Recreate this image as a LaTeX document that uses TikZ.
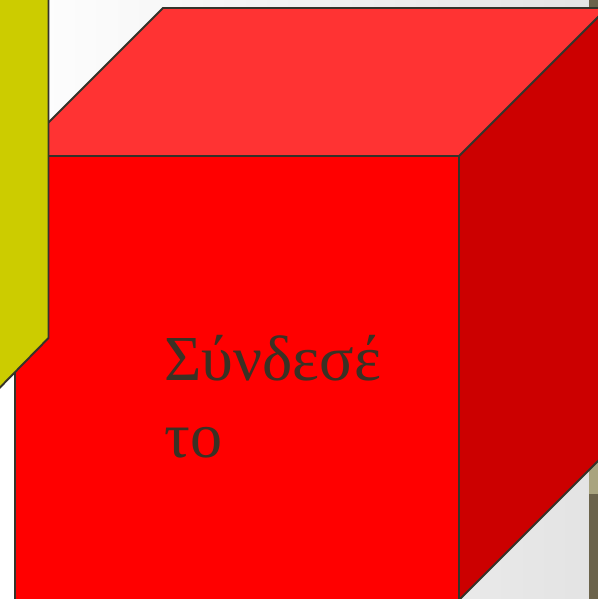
\documentclass[tikz,border=0pt]{standalone}
\usepackage{fontspec}
\newfontfamily\greekfont{Liberation Serif}
\definecolor{cubeInk}{HTML}{35332A}
\definecolor{cubeFront}{HTML}{FF0000}
\definecolor{cubeTop}{HTML}{FF3333}
\definecolor{cubeSide}{HTML}{CC0000}
\definecolor{tabYellow}{HTML}{CCCC00}
\definecolor{stripOlive}{HTML}{6B634B}
\definecolor{stripTan}{HTML}{A9A47F}
\definecolor{textInk}{HTML}{3A3124}
\tikzset{
  cube face/.style={draw=cubeInk, line width=1.1pt, line join=miter},
  cube text/.style={font=\greekfont\fontsize{36.5}{43.5}\selectfont, text=textInk,
    align=left, inner sep=0pt, anchor=north west}
}
\begin{document}
\begin{tikzpicture}[x=0.02cm,y=-0.02cm]
  \useasboundingbox (0,0) rectangle (598,599);
  \clip (0,0) rectangle (598,599);
  % slide background
  \shade[left color=white, right color=black!11] (0,0) rectangle (598,599);
  \fill[stripOlive] (589,0) rectangle (598,599);
  \fill[stripTan] (589,462) rectangle (598,494);
  % cube
  \filldraw[cube face, fill=cubeSide] (459,156) -- (607,8) -- (607,452) -- (459,600) -- cycle;
  \filldraw[cube face, fill=cubeTop] (15,156) -- (163,8) -- (607,8) -- (459,156) -- cycle;
  \filldraw[cube face, fill=cubeFront] (15,156) rectangle (459,600);
  \node[cube text] (label) at (164,335) {Σύνδεσέ\\το};
  % yellow tab on the left
  \fill[tabYellow] (-2,-2) -- (48.5,-2) -- (48.5,338) -- (-2,389.5) -- cycle;
  \draw[cubeInk, line width=1.1pt] (48.5,-2) -- (48.5,338) -- (-2,389.5);
\end{tikzpicture}
\end{document}
